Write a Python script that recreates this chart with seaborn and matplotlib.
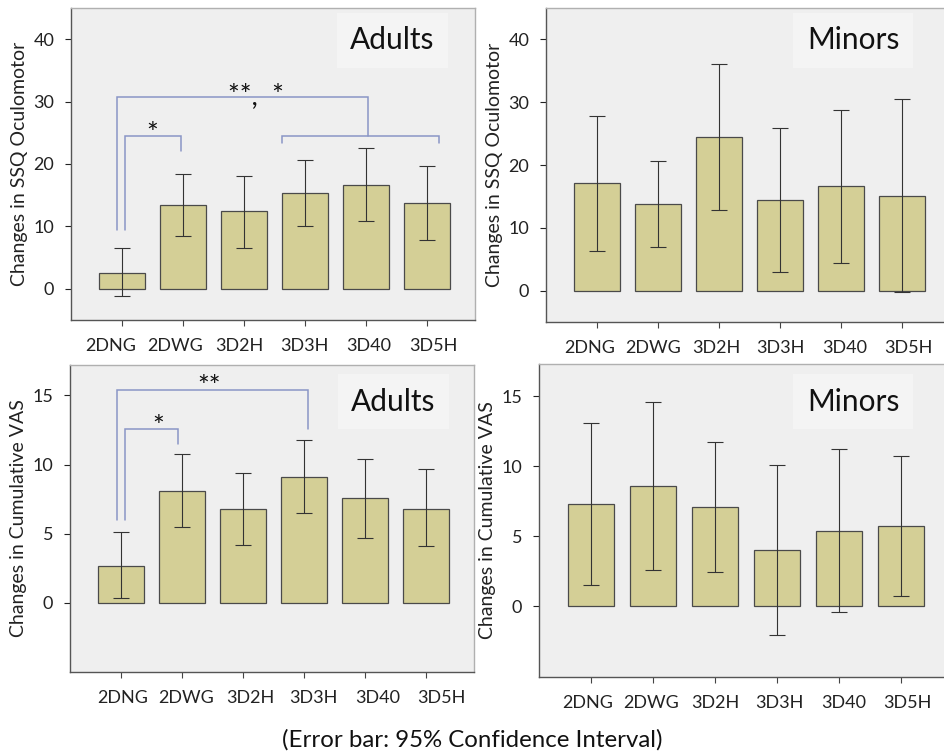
import numpy as np
import matplotlib
matplotlib.use("Agg")
import matplotlib.pyplot as plt
import seaborn as sns

sns.set_style("white")
plt.rcParams['font.family'] = ['Lato', 'DejaVu Sans']

# data
groups = ['2DNG', '2DWG', '3D2H', '3D3H', '3D40', '3D5H']

ssq_adult_mean = [2.6, 13.4, 12.4, 15.3, 16.6, 13.8]
ssq_adult_lo = [-1.2, 8.5, 6.6, 10.0, 10.8, 7.8]
ssq_adult_hi = [6.5, 18.4, 18.1, 20.6, 22.5, 19.7]

ssq_minor_mean = [17.1, 13.8, 24.5, 14.4, 16.6, 15.1]
ssq_minor_lo = [6.3, 6.9, 12.8, 3.0, 4.4, -0.3]
ssq_minor_hi = [27.8, 20.6, 36.1, 25.9, 28.8, 30.5]

vas_adult_mean = [2.7, 8.1, 6.8, 9.1, 7.6, 6.8]
vas_adult_lo = [0.36, 5.5, 4.2, 6.5, 4.7, 4.1]
vas_adult_hi = [5.1, 10.8, 9.4, 11.8, 10.4, 9.7]

vas_minor_mean = [7.3, 8.6, 7.05, 4.0, 5.4, 5.7]
vas_minor_lo = [1.5, 2.6, 2.4, -2.1, -0.4, 0.7]
vas_minor_hi = [13.1, 14.6, 11.7, 10.1, 11.2, 10.7]

# significance brackets: (x0, x1, y, y_end_left, y_end_right)
ssq_brackets = [(0.05, 0.96, 24.5, 9.5, 22.1),
                (2.63, 5.2, 24.5, 23.3, 23.3),
                (-0.09, 4.04, 30.8, 9.5, 24.5)]
ssq_stars = [(0.5, 23.4, '*'), (2.2, 29.6, '**,  *')]
vas_brackets = [(0.07, 0.94, 12.6, 6.0, 11.5),
                (-0.07, 3.06, 15.4, 6.0, 12.6)]
vas_stars = [(0.61, 12.05, '*'), (1.45, 14.95, '**')]

BAR = '#d4cf96'
BRACKET = '#8a96c6'
W, H = 944, 756

fig = plt.figure(figsize=(9.44, 7.56), dpi=100)


def make_ax(x0, x1, y0, y1):
    return fig.add_axes([x0 / W, 1 - y1 / H, (x1 - x0) / W, (y1 - y0) / H])


def panel(ax, mean, lo, hi, ylim, yticks, ylabel, tag, label_span):
    mean = np.array(mean)
    sns.barplot(x=groups, y=mean, ax=ax, color=BAR, saturation=1,
                edgecolor='#4a4a4a', linewidth=0.9, width=0.75)
    ax.errorbar(np.arange(len(groups)), mean,
                yerr=[mean - np.array(lo), np.array(hi) - mean],
                fmt='none', ecolor='#333333', elinewidth=0.8, capsize=6,
                capthick=0.8, zorder=5)
    ax.set_facecolor('#efefef')
    ax.set_xlim(-0.84, 5.79)
    ax.set_ylim(*ylim)
    ax.set_yticks(yticks)
    # labels sit slightly spread out relative to the tick marks
    ax.set_xticks(np.linspace(label_span[0], label_span[1], len(groups)), groups)
    ax.set_xticks(np.arange(len(groups)), minor=True)
    ax.set_ylabel(ylabel, fontsize=14, color='#222222', labelpad=4)
    ax.set_xlabel('')
    ax.tick_params(axis='both', labelsize=13, colors='#222222',
                   width=0.8, direction='out', bottom=True, left=True)
    ax.tick_params(axis='x', which='major', length=0, pad=13)
    ax.tick_params(axis='x', which='minor', length=4, width=0.8,
                   color='#444444', bottom=True)
    ax.tick_params(axis='y', length=4, pad=8)
    for s in ['left', 'bottom']:
        ax.spines[s].set_color('#555555')
        ax.spines[s].set_linewidth(1.0)
    for s in ['top', 'right']:
        ax.spines[s].set_color('#b0b0b0')
        ax.spines[s].set_linewidth(1.0)
    ax.text(tag[1], tag[2], tag[0], transform=ax.transAxes, fontsize=21.5,
            ha='center', va='center', color='#111111',
            bbox=dict(boxstyle='square,pad=0.45', facecolor='#f4f4f4',
                      edgecolor='none'))


def brackets(ax, spec, stars):
    for x0, x1, y, e0, e1 in spec:
        ax.plot([x0, x0, x1, x1], [e0, y, y, e1], color=BRACKET, lw=1.1,
                zorder=6, solid_joinstyle='miter')
    for x, y, s in stars:
        ax.text(x, y, s, ha='center', va='baseline', fontsize=20,
                color='#111111')


ax1 = make_ax(71, 475, 8, 320)
panel(ax1, ssq_adult_mean, ssq_adult_lo, ssq_adult_hi, (-5, 45),
      [0, 10, 20, 30, 40], 'Changes in SSQ Oculomotor', ('Adults', 0.795, 0.897),
      (-0.19, 5.10))
brackets(ax1, ssq_brackets, ssq_stars)

ax2 = make_ax(546, 950, 8, 322)
panel(ax2, ssq_minor_mean, ssq_minor_lo, ssq_minor_hi, (-5, 45),
      [0, 10, 20, 30, 40], 'Changes in SSQ Oculomotor', ('Minors', 0.76, 0.897),
      (-0.13, 5.10))

ax3 = make_ax(70, 474, 365, 672)
panel(ax3, vas_adult_mean, vas_adult_lo, vas_adult_hi, (-5, 17.2),
      [0, 5, 10, 15], 'Changes in Cumulative VAS', ('Adults', 0.80, 0.88),
      (0.02, 5.25))
brackets(ax3, vas_brackets, vas_stars)

ax4 = make_ax(539, 950, 364, 677)
panel(ax4, vas_minor_mean, vas_minor_lo, vas_minor_hi, (-5.07, 17.3),
      [0, 5, 10, 15], 'Changes in Cumulative VAS', ('Minors', 0.764, 0.879),
      (-0.06, 5.10))

fig.text(0.5, 1 - 740 / H, '(Error bar: 95% Confidence Interval)',
         ha='center', va='center', fontsize=17.3, color='#111111')

fig.savefig('out.png', dpi=100)
